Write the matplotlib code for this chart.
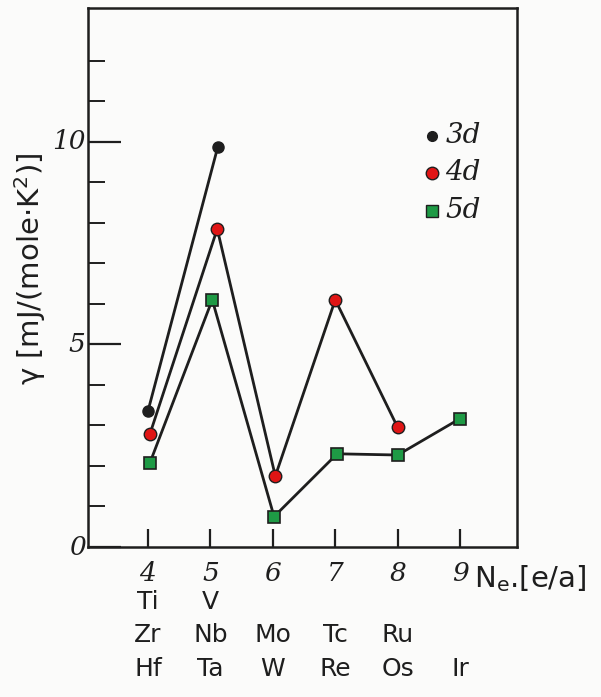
import matplotlib.pyplot as plt
import numpy as np

# valeurs
x3d = [4.0, 5.12]
y3d = [3.35, 9.88]
x4d = [4.03, 5.11, 6.04, 7.0, 8.0]
y4d = [2.78, 7.85, 1.75, 6.1, 2.95]
x5d = [4.03, 5.03, 6.02, 7.03, 8.0, 9.0]
y5d = [2.07, 6.1, 0.75, 2.3, 2.27, 3.17]

xticks = [4, 5, 6, 7, 8, 9]
row1 = ["Ti", "V", "", "", "", ""]
row2 = ["Zr", "Nb", "Mo", "Tc", "Ru", ""]
row3 = ["Hf", "Ta", "W", "Re", "Os", "Ir"]

fond = "#fbfbfa"
encre = "#1e1e1e"
rouge = "#e01515"
vert = "#1e9a45"

fig = plt.figure(figsize=(6.01, 6.97), dpi=100, facecolor=fond)
ax = fig.add_axes([0.1464, 0.2152, 0.7138, 0.7733])
ax.set_facecolor(fond)

ax.plot(x3d, y3d, color=encre, lw=2, marker="o", ms=8, mfc=encre, mec=encre, zorder=3)
ax.plot(x4d, y4d, color=encre, lw=2, marker="o", ms=9, mfc=rouge, mec=encre, mew=1, zorder=3)
ax.plot(x5d, y5d, color=encre, lw=2, marker="s", ms=9, mfc=vert, mec=encre, mew=1.2, zorder=3)

ax.set_xlim(3.04, 9.91)
ax.set_ylim(0, 13.3)

for s in ax.spines.values():
    s.set_linewidth(1.8)
    s.set_color(encre)

ax.set_xticks(xticks)
ax.set_xticklabels([])
ax.tick_params(axis="x", direction="in", length=13, width=1.6, color=encre)
ax.set_yticks([0, 5, 10])
ax.set_yticks(np.arange(0, 13, 1), minor=True)
ax.set_yticklabels([])
ax.tick_params(axis="y", which="major", direction="in", length=24, width=1.6, color=encre)
ax.tick_params(axis="y", which="minor", direction="in", length=12, width=1.4, color=encre)

chiffres = dict(family="DejaVu Serif", style="italic", size=19, color=encre)
for v in [0, 5, 10]:
    ax.text(3.0, v, str(v), ha="right", va="center", **chiffres)
for i, x in enumerate(xticks):
    ax.text(x, -0.35, str(x), ha="center", va="top", **chiffres)

noms = dict(family=["DejaVu Sans"], size=18, color=encre)
for rang, ligne in zip([-1.05, -1.88, -2.72], [row1, row2, row3]):
    for x, t in zip(xticks, ligne):
        if t:
            ax.text(x, rang, t, ha="center", va="top", **noms)

ax.text(9.22, -0.4, r"$\mathregular{N_e}$.[e/a]", ha="left", va="top",
        family="DejaVu Sans", size=21, color=encre)

fig.text(0.05, 0.615, "γ [mJ/(mole·K$^2$)]", rotation=90, ha="center", va="center",
         family="DejaVu Sans", size=21, color=encre)

# légende faite à la main
leg = [("3d", "o", encre, 7, 10.15), ("4d", "o", rouge, 9, 9.23), ("5d", "s", vert, 9, 8.3)]
for nom, m, c, ms, yy in leg:
    ax.plot([8.55], [yy], marker=m, ms=ms, mfc=c, mec=encre, ls="none")
    ax.text(8.76, yy, nom, ha="left", va="center", family="DejaVu Serif",
            style="italic", size=20, color=encre)

fig.savefig("out.png", dpi=100, facecolor=fond)
